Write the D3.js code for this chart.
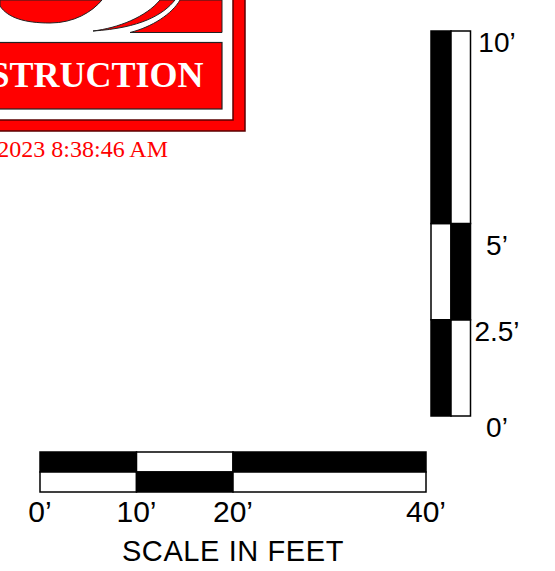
<!DOCTYPE html>
<meta charset="utf-8">
<script src="https://cdn.jsdelivr.net/npm/d3@7"></script>
<style>
    body { margin: 0; background: white; }
    text { font-family: "Liberation Sans", Arial, sans-serif; }
</style>
<div id="my_dataviz"></div>
<script>
    // scale bar values (feet)
    var hTicks = [0, 10, 20, 40];
    var hLabels = ["0’", "10’", "20’", "40’"];
    var hTopFilled = [true, false, true];
    var hBottomFilled = [false, true, false];
    var hTitle = "SCALE IN FEET";

    var vTicks = [0, 2.5, 5, 10];
    var vLabels = ["0’", "2.5’", "5’", "10’"];
    var vLeftFilled = [true, false, true];
    var vRightFilled = [false, true, false];

    // title block fragment
    var logoWord = "STRUCTION";
    var stampText = "2023 8:38:46 AM";

    var width = 555, height = 571;

    var svg = d3.select("#my_dataviz")
        .append("svg")
        .attr("width", width)
        .attr("height", height);

    // ---- logo fragment, top left ----
    var logo = svg.append("g");
    // outer frame
    logo.append("rect").attr("x", -20).attr("y", -20).attr("width", 265).attr("height", 151)
        .style("fill", "red").style("stroke", "#5a0000").style("stroke-width", 1.5);
    logo.append("rect").attr("x", -20).attr("y", -20).attr("width", 253).attr("height", 140)
        .style("fill", "white").style("stroke", "#5a0000").style("stroke-width", 1.5);
    // word box
    logo.append("rect").attr("x", -20).attr("y", 42.5).attr("width", 242).attr("height", 66.5)
        .style("fill", "red").style("stroke", "#222").style("stroke-width", 1.2);
    logo.append("text")
        .attr("x", 203.5).attr("y", 87)
        .attr("text-anchor", "end")
        .style("font-family", "'Liberation Serif', 'Times New Roman', serif")
        .style("font-weight", "bold")
        .style("font-size", "36px")
        .style("fill", "white")
        .text(logoWord);
    // swooshes
    var swooshes = [
        "M0,6 C8,18 25,23 50,23 C74,23 92,12 102,0 L0,0 Z",
        "M93,31 C118,28 146,17 160,0 L175,0 C163,15 140,28 93,31 Z",
        "M130,32.5 C152,27 172,14 180,0 L222,0 L222,32.5 Z"
    ];
    logo.selectAll("path.swoosh")
        .data(swooshes)
        .enter()
        .append("path")
        .attr("class", "swoosh")
        .attr("d", function(d) { return d; })
        .style("fill", "red")
        .style("stroke", "#222")
        .style("stroke-width", 1);
    logo.append("text")
        .attr("x", 168).attr("y", 157)
        .attr("text-anchor", "end")
        .style("font-family", "'Liberation Serif', 'Times New Roman', serif")
        .style("font-size", "24px")
        .style("fill", "red")
        .text(stampText);

    // ---- horizontal scale bar ----
    var x = d3.scaleLinear().domain([0, 40]).range([40, 426]);
    var barTop = 452, barMid = 472, barBottom = 492;

    var hCells = [];
    for (var i = 0; i < hTicks.length - 1; i++) {
        hCells.push({ from: hTicks[i], to: hTicks[i + 1], y0: barTop, y1: barMid, filled: hTopFilled[i] });
        hCells.push({ from: hTicks[i], to: hTicks[i + 1], y0: barMid, y1: barBottom, filled: hBottomFilled[i] });
    }
    svg.append("g")
        .selectAll("rect")
        .data(hCells)
        .enter()
        .append("rect")
        .attr("x", function(d) { return x(d.from); })
        .attr("y", function(d) { return d.y0; })
        .attr("width", function(d) { return x(d.to) - x(d.from); })
        .attr("height", function(d) { return d.y1 - d.y0; })
        .style("fill", function(d) { return d.filled ? "black" : "white"; })
        .style("stroke", "black")
        .style("stroke-width", 1.5);

    svg.append("g")
        .selectAll("text")
        .data(hTicks)
        .enter()
        .append("text")
        .attr("x", function(d) { return x(d); })
        .attr("y", 522)
        .attr("text-anchor", "middle")
        .style("font-size", "30px")
        .text(function(d, i) { return hLabels[i]; });

    svg.append("text")
        .attr("x", (x(0) + x(40)) / 2)
        .attr("y", 561)
        .attr("text-anchor", "middle")
        .style("font-size", "29px")
        .style("letter-spacing", "0.6px")
        .text(hTitle);

    // ---- vertical scale bar ----
    var y = d3.scaleLinear().domain([0, 10]).range([416, 31]);
    var colLeft = 431, colMid = 451, colRight = 470.5;

    var vCells = [];
    for (var j = 0; j < vTicks.length - 1; j++) {
        vCells.push({ from: vTicks[j], to: vTicks[j + 1], x0: colLeft, x1: colMid, filled: vLeftFilled[j] });
        vCells.push({ from: vTicks[j], to: vTicks[j + 1], x0: colMid, x1: colRight, filled: vRightFilled[j] });
    }
    svg.append("g")
        .selectAll("rect")
        .data(vCells)
        .enter()
        .append("rect")
        .attr("x", function(d) { return d.x0; })
        .attr("y", function(d) { return y(d.to); })
        .attr("width", function(d) { return d.x1 - d.x0; })
        .attr("height", function(d) { return y(d.from) - y(d.to); })
        .style("fill", function(d) { return d.filled ? "black" : "white"; })
        .style("stroke", "black")
        .style("stroke-width", 1.5);

    // the 5' label sits a little lower than the others in the drawing
    svg.append("g")
        .selectAll("text")
        .data(vTicks)
        .enter()
        .append("text")
        .attr("x", 497)
        .attr("y", function(d) { return y(d) + (d === 5 ? 31 : 21); })
        .attr("text-anchor", "middle")
        .style("font-size", "28px")
        .text(function(d, i) { return vLabels[i]; });
</script>
